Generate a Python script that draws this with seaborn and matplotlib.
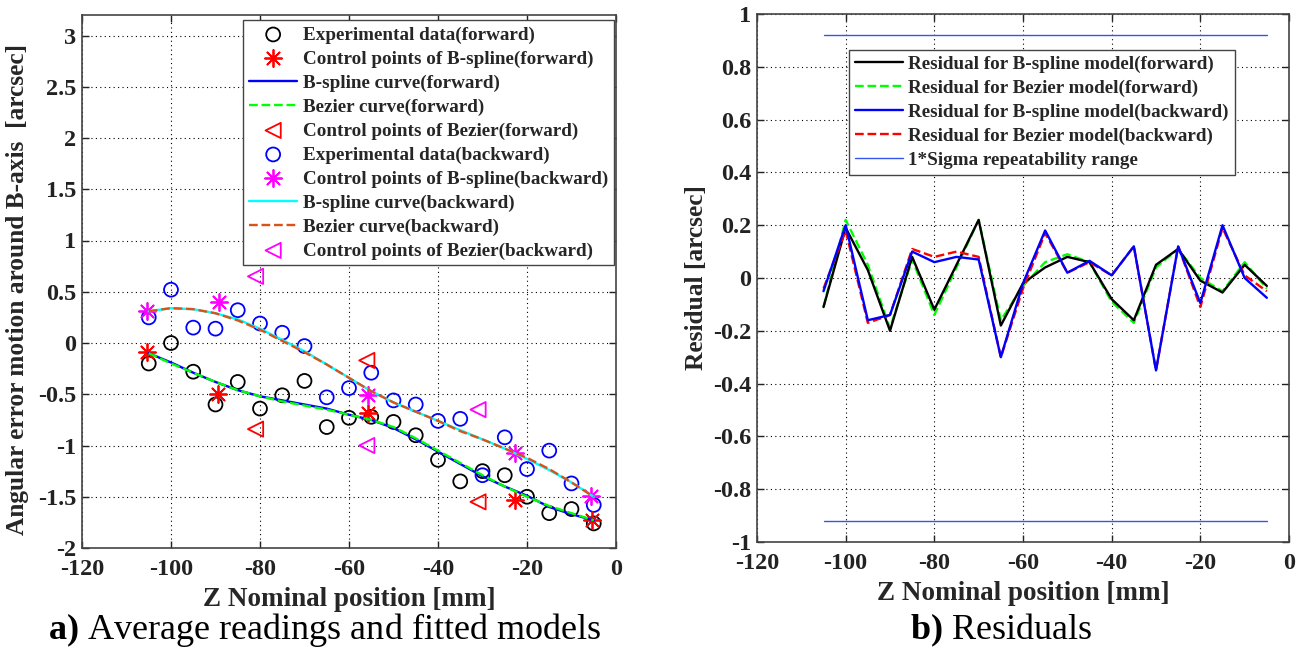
import matplotlib
matplotlib.use("Agg")
import matplotlib.pyplot as plt
import seaborn as sns

# ---- measured positions and readings ----
z_pos = [-105, -100, -95, -90, -85, -80, -75, -70, -65, -60, -55,
         -50, -45, -40, -35, -30, -25, -20, -15, -10, -5]

exp_fwd = [-0.20, 0.00, -0.28, -0.60, -0.38, -0.64, -0.51, -0.37, -0.82, -0.73, -0.72,
           -0.77, -0.90, -1.14, -1.35, -1.25, -1.29, -1.50, -1.66, -1.62, -1.76]
exp_bwd = [0.25, 0.52, 0.15, 0.14, 0.32, 0.19, 0.10, -0.03, -0.53, -0.44, -0.29,
           -0.56, -0.60, -0.76, -0.74, -1.29, -0.92, -1.23, -1.05, -1.37, -1.58]

bspline_fwd = [-0.10, -0.19, -0.29, -0.38, -0.46, -0.52, -0.56, -0.60, -0.64, -0.70, -0.75,
               -0.83, -0.94, -1.06, -1.18, -1.30, -1.40, -1.49, -1.60, -1.67, -1.73]
bezier_fwd = [-0.10, -0.20, -0.29, -0.38, -0.46, -0.52, -0.57, -0.61, -0.65, -0.70, -0.75,
              -0.82, -0.93, -1.05, -1.17, -1.29, -1.40, -1.50, -1.59, -1.66, -1.73]
bspline_bwd = [0.31, 0.34, 0.33, 0.29, 0.23, 0.14, 0.03, -0.08, -0.21, -0.34, -0.47,
               -0.58, -0.67, -0.76, -0.85, -0.94, -1.03, -1.13, -1.24, -1.36, -1.50]
bezier_bwd = [0.31, 0.34, 0.33, 0.29, 0.22, 0.13, 0.02, -0.09, -0.21, -0.34, -0.47,
              -0.58, -0.67, -0.76, -0.86, -0.94, -1.03, -1.12, -1.23, -1.36, -1.50]

cp_bs_fwd_x = [-105.5, -89.5, -55.7, -22.6, -5.5]
cp_bs_fwd_y = [-0.09, -0.50, -0.68, -1.53, -1.73]
cp_bs_bwd_x = [-105.5, -89.3, -55.7, -22.6, -5.7]
cp_bs_bwd_y = [0.31, 0.40, -0.51, -1.07, -1.49]

cp_bz_fwd_x = [-81, -56, -31]
cp_bz_fwd_y = [-0.84, -0.17, -1.55]
cp_bz_bwd_x = [-81, -56, -31]
cp_bz_bwd_y = [0.65, -1.00, -0.65]

res_bs_fwd = [-0.11, 0.19, 0.03, -0.20, 0.08, -0.12, 0.05, 0.22, -0.18, -0.02, 0.04,
              0.08, 0.06, -0.08, -0.16, 0.05, 0.11, -0.01, -0.055, 0.05, -0.03]
res_bz_fwd = [-0.11, 0.22, 0.05, -0.19, 0.07, -0.14, 0.04, 0.22, -0.16, -0.03, 0.06,
              0.09, 0.06, -0.09, -0.17, 0.04, 0.11, 0.00, -0.05, 0.06, -0.04]
res_bs_bwd = [-0.05, 0.20, -0.16, -0.14, 0.10, 0.06, 0.08, 0.07, -0.30, -0.02, 0.18,
              0.02, 0.065, 0.01, 0.12, -0.35, 0.12, -0.095, 0.20, 0.00, -0.075]
res_bz_bwd = [-0.04, 0.18, -0.17, -0.14, 0.11, 0.08, 0.10, 0.08, -0.30, -0.04, 0.17,
              0.02, 0.06, 0.01, 0.12, -0.35, 0.12, -0.11, 0.19, 0.01, -0.05]

sigma_x = [-105, -5]
sigma_level = 0.92

# ---- style ----
sns.set_style("ticks")
plt.rcParams["font.family"] = ["Liberation Serif", "DejaVu Serif"]
plt.rcParams["font.weight"] = "bold"
plt.rcParams["axes.unicode_minus"] = False
plt.rcParams["mathtext.fontset"] = "custom"
plt.rcParams["mathtext.rm"] = "Liberation Serif"
plt.rcParams["mathtext.bf"] = "Liberation Serif:bold"

W, H = 1298, 658
fig = plt.figure(figsize=(W / 100, H / 100), dpi=100)
ax1 = fig.add_axes([82 / W, 1 - 548 / H, 534 / W, 533 / H])
ax2 = fig.add_axes([757 / W, 1 - 542 / H, 532 / W, 528 / H])

STAR = (8, 2, 0)
dash = (4, 2.5)
LEG_FS = 13.8

# ---- left: readings and fitted models ----
sns.scatterplot(x=z_pos, y=exp_fwd, ax=ax1, marker="o", s=100, facecolor="none",
                edgecolor="black", linewidth=1.3, label="Experimental data(forward)", zorder=3)
sns.scatterplot(x=cp_bs_fwd_x, y=cp_bs_fwd_y, ax=ax1, marker=STAR, s=150, color="red",
                edgecolor="red", linewidth=1.3, label="Control points of B-spline(forward)", zorder=4)
sns.lineplot(x=z_pos, y=bspline_fwd, ax=ax1, color="#0000ff", linewidth=1.7,
             label="B-spline curve(forward)", zorder=5)
sns.lineplot(x=z_pos, y=bezier_fwd, ax=ax1, color="#00ff00", linewidth=1.7,
             dashes=dash, linestyle="--", label="Bezier curve(forward)", zorder=5)
sns.scatterplot(x=cp_bz_fwd_x, y=cp_bz_fwd_y, ax=ax1, marker="<", s=120, facecolor="none",
                edgecolor="red", linewidth=1.3, label="Control points of Bezier(forward)", zorder=4)
sns.scatterplot(x=z_pos, y=exp_bwd, ax=ax1, marker="o", s=100, facecolor="none",
                edgecolor="#0000ff", linewidth=1.3, label="Experimental data(backward)", zorder=3)
sns.scatterplot(x=cp_bs_bwd_x, y=cp_bs_bwd_y, ax=ax1, marker=STAR, s=150, color="#ff00ff",
                edgecolor="#ff00ff", linewidth=1.3, label="Control points of B-spline(backward)", zorder=4)
sns.lineplot(x=z_pos, y=bspline_bwd, ax=ax1, color="#00ffff", linewidth=1.7,
             label="B-spline curve(backward)", zorder=5)
sns.lineplot(x=z_pos, y=bezier_bwd, ax=ax1, color="#d95319", linewidth=1.7,
             dashes=dash, linestyle="--", label="Bezier curve(backward)", zorder=5)
sns.scatterplot(x=cp_bz_bwd_x, y=cp_bz_bwd_y, ax=ax1, marker="<", s=120, facecolor="none",
                edgecolor="#ff00ff", linewidth=1.3, label="Control points of Bezier(backward)", zorder=4)

ax1.set_xlim(-120, 0)
ax1.set_ylim(-2, 3.2)
ax1.set_xticks(range(-120, 1, 20))
ax1.set_yticks([-2, -1.5, -1, -0.5, 0, 0.5, 1, 1.5, 2, 2.5, 3])
ax1.set_xlabel("Z Nominal position [mm]", fontsize=19.5, fontweight="bold", labelpad=5)
ax1.set_ylabel("Angular error motion around B-axis  [arcsec]", fontsize=18.3, fontweight="bold")
ax1.yaxis.set_label_coords(-0.099, 0.485)

leg1 = ax1.legend(loc="upper right", bbox_to_anchor=(0.996, 0.99), borderaxespad=0,
                  fontsize=LEG_FS, labelspacing=0.34, handlelength=2.5, handletextpad=0.3,
                  borderpad=0.3, frameon=True, fancybox=False, edgecolor="#444444",
                  framealpha=1)
leg1.get_frame().set_linewidth(1.0)

# ---- right: residuals ----
sns.lineplot(x=z_pos, y=res_bs_fwd, ax=ax2, color="black", linewidth=1.7,
             label="Residual for B-spline model(forward)", zorder=4)
sns.lineplot(x=z_pos, y=res_bz_fwd, ax=ax2, color="#00ff00", linewidth=1.7,
             dashes=dash, linestyle="--", label="Residual for Bezier model(forward)", zorder=3)
sns.lineplot(x=z_pos, y=res_bs_bwd, ax=ax2, color="#0000ff", linewidth=1.7,
             label="Residual for B-spline model(backward)", zorder=5)
sns.lineplot(x=z_pos, y=res_bz_bwd, ax=ax2, color="#ff0000", linewidth=1.7,
             dashes=dash, linestyle="--", label="Residual for Bezier model(backward)", zorder=4)
sns.lineplot(x=sigma_x, y=[sigma_level, sigma_level], ax=ax2, color="#3355ee", linewidth=1.0,
             label="1*Sigma repeatability range", zorder=3)
sns.lineplot(x=sigma_x, y=[-sigma_level, -sigma_level], ax=ax2, color="#3355ee", linewidth=1.0,
             zorder=3)

ax2.set_xlim(-120, 0)
ax2.set_ylim(-1, 1)
ax2.set_xticks(range(-120, 1, 20))
ax2.set_yticks([-1, -0.8, -0.6, -0.4, -0.2, 0, 0.2, 0.4, 0.6, 0.8, 1])
ax2.set_xlabel("Z Nominal position [mm]", fontsize=19.5, fontweight="bold", labelpad=5)
ax2.set_ylabel("Residual [arcsec]", fontsize=18.3, fontweight="bold")
ax2.yaxis.set_label_coords(-0.092, 0.5)

leg2 = ax2.legend(loc="upper left", bbox_to_anchor=(0.173, 0.932), borderaxespad=0,
                  fontsize=LEG_FS, labelspacing=0.34, handlelength=2.5, handletextpad=0.3,
                  borderpad=0.3, frameon=True, fancybox=False, edgecolor="#444444",
                  framealpha=1)
leg2.get_frame().set_linewidth(1.0)

for ax in (ax1, ax2):
    ax.grid(True, linestyle=(0, (1, 3)), color="black", linewidth=0.8)
    ax.set_axisbelow(True)
    ax.tick_params(direction="in", length=5, width=1, top=True, right=True,
                   labelsize=17.5, colors="#222222")
    ax.tick_params(axis="x", pad=8)
    ax.tick_params(axis="y", pad=4)
    for lbl in ax.get_xticklabels() + ax.get_yticklabels():
        lbl.set_fontweight("bold")
    for sp in ax.spines.values():
        sp.set_color("#444444")
        sp.set_linewidth(1.2)
    ax.xaxis.set_major_formatter(matplotlib.ticker.FormatStrFormatter("%g"))
    ax.yaxis.set_major_formatter(matplotlib.ticker.FormatStrFormatter("%g"))

# ---- panel captions ----
fig.text(0.2504, 0.042, r"$\mathbf{a)}$ Average readings and fitted models",
         ha="center", va="center", fontsize=26, fontweight="normal", color="black")
fig.text(0.771, 0.042, r"$\mathbf{b)}$ Residuals",
         ha="center", va="center", fontsize=26, fontweight="normal", color="black")

fig.savefig("out.png", dpi=100)
